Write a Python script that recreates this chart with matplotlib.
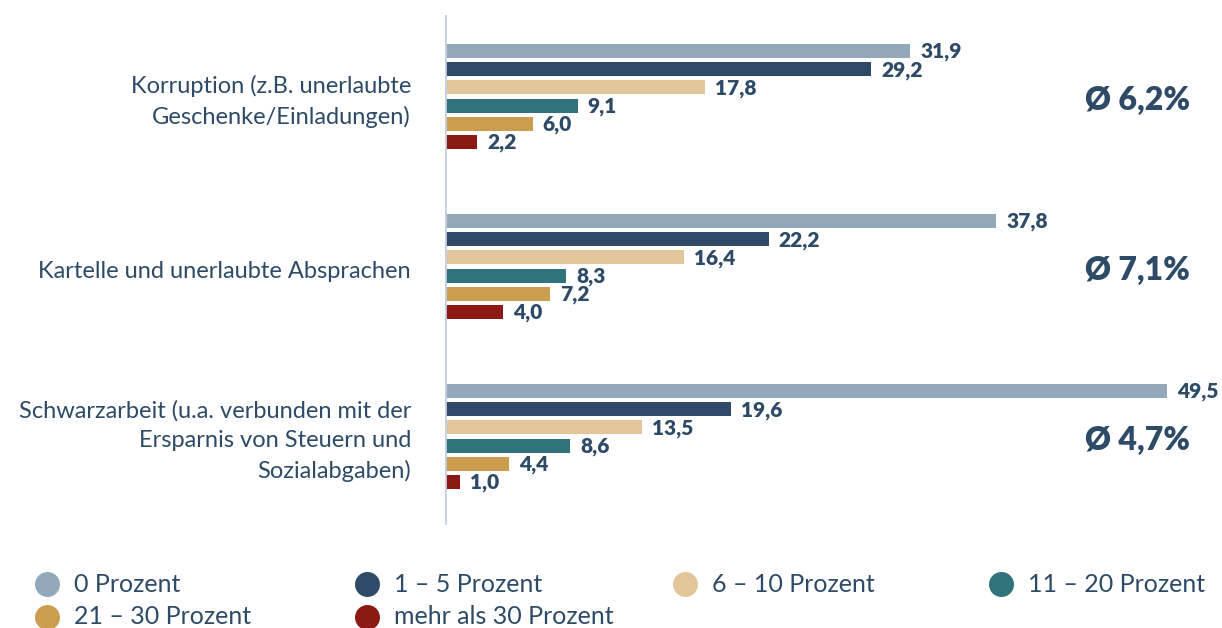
import numpy as np
import matplotlib
matplotlib.use("Agg")
import matplotlib.pyplot as plt
from matplotlib.lines import Line2D

plt.rcParams['font.family'] = ['Lato', 'DejaVu Sans']

# data
categories = [
    "Korruption (z.B. unerlaubte\nGeschenke/Einladungen)",
    "Kartelle und unerlaubte Absprachen",
    "Schwarzarbeit (u.a. verbunden mit der\nErsparnis von Steuern und\nSozialabgaben)",
]
series = ["0 Prozent", "1 – 5 Prozent", "6 – 10 Prozent",
          "11 – 20 Prozent", "21 – 30 Prozent", "mehr als 30 Prozent"]
values = [
    [31.9, 29.2, 17.8, 9.1, 6.0, 2.2],
    [37.8, 22.2, 16.4, 8.3, 7.2, 4.0],
    [49.5, 19.6, 13.5, 8.6, 4.4, 1.0],
]
averages = ["Ø 6,2%", "Ø 7,1%", "Ø 4,7%"]

colors = ["#94A8BB", "#2E4A66", "#E2C699", "#31737A", "#CB9D4F", "#8B1A14"]
text_color = "#2D4A67"

W, H = 1222, 628
fig = plt.figure(figsize=(W / 100, H / 100), dpi=100)

# axes from x=445px to right edge, y=15px..525px
ax = fig.add_axes([445 / W, 1 - 525 / H, (W - 445) / W, 510 / H])
row_px = 18.2
group_px = 170.0
px_per_unit = 722 / 49.5
xmax = (W - 445) / px_per_unit
ax.set_xlim(0, xmax)
ax.set_ylim((525 - 51) / row_px, (15 - 51) / row_px)

bar_h = 14 / row_px
for g, vals in enumerate(values):
    base = g * group_px / row_px
    ys = base + np.arange(len(vals))
    ax.barh(ys, vals, height=bar_h, color=colors, zorder=2)
    for y, v in zip(ys, vals):
        ax.text(v + 10 / px_per_unit, y + 0.05, f"{v:.1f}".replace(".", ","),
                va="center", ha="left", fontsize=15, fontweight="heavy",
                color=text_color)
    center = base + 2.5
    ax.text(-34 / px_per_unit, center + 0.25, categories[g], ha="right",
            va="center", fontsize=17, color=text_color, linespacing=1.5)
    ax.text((1085 - 445) / px_per_unit, center + 0.2, averages[g], ha="left",
            va="center", fontsize=23, fontweight="heavy", color=text_color)

ax.axvline(0, color="#C5D0E2", lw=2, zorder=3)
for s in ax.spines.values():
    s.set_visible(False)
ax.set_xticks([])
ax.set_yticks([])

# legend, fixed column positions
col_x = [47, 367, 685, 1001]
row_y = [584, 617]
for i, (name, c) in enumerate(zip(series, colors)):
    r, k = divmod(i, 4)
    x = col_x[k] / W
    y = 1 - row_y[r] / H
    fig.add_artist(Line2D([x], [y], marker="o", markersize=18, color=c,
                          markeredgewidth=0, linestyle="none",
                          transform=fig.transFigure))
    fig.text(x + 27 / W, y, name, ha="left", va="center",
             fontsize=18, color=text_color)

fig.savefig("out.png", dpi=100)
